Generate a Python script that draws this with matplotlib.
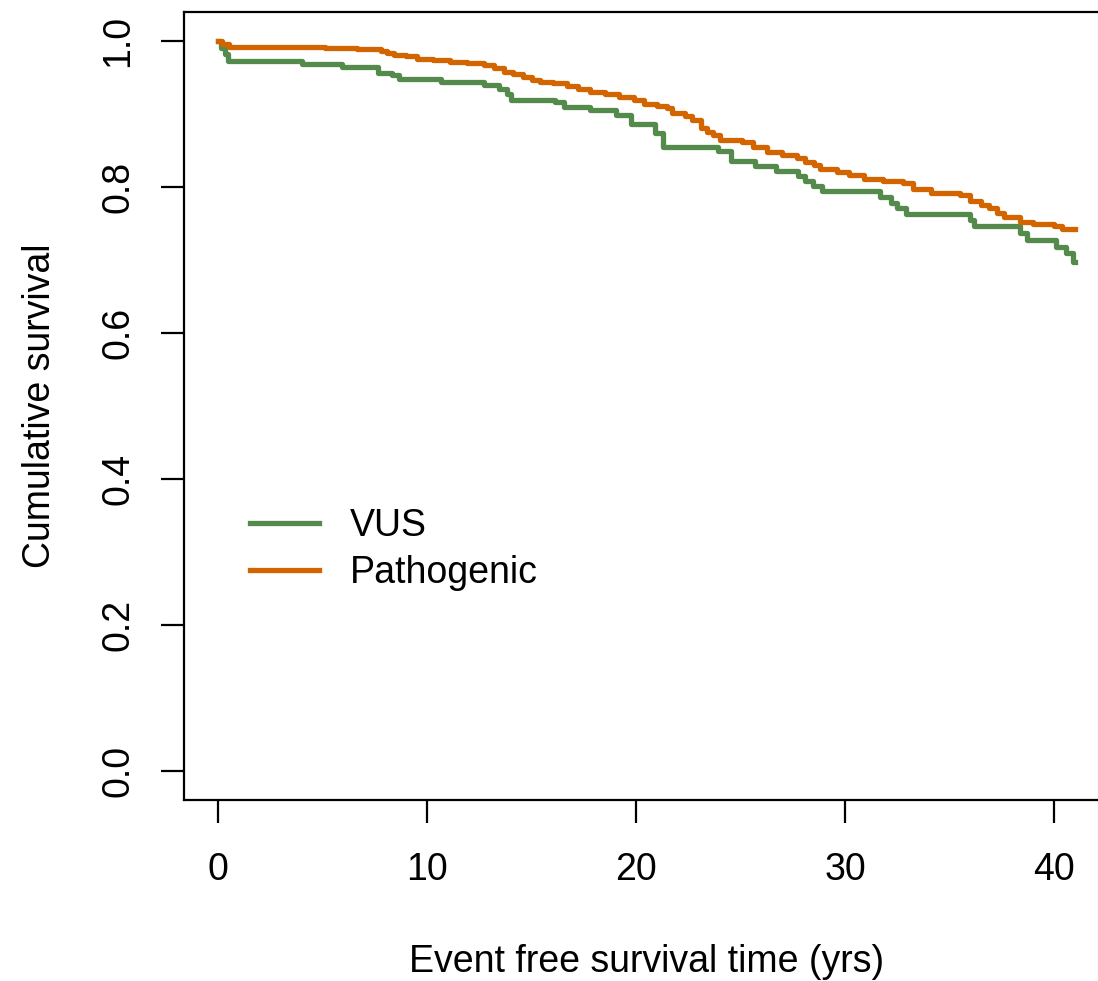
import matplotlib
matplotlib.use('Agg')
import matplotlib.pyplot as plt

# Kaplan-Meier style curves
vus_time = [0, 0.15, 0.3, 0.45, 4.0, 5.9, 7.66, 8.3, 8.66, 10.65, 12.7, 13.45, 13.8, 14.0,
            16.1, 16.55, 17.8, 19.05, 19.75, 20.9, 21.27, 23.9, 24.55, 25.7, 26.7, 27.75,
            28.1, 28.45, 28.9, 31.7, 32.2, 32.5, 32.9, 36.0, 36.2, 38.4, 38.7, 40.1, 40.6,
            40.9, 41.0]
vus_surv = [1.0, 0.99, 0.982, 0.973, 0.969, 0.965, 0.957, 0.953, 0.948, 0.944, 0.940, 0.935,
            0.928, 0.920, 0.916, 0.910, 0.905, 0.899, 0.887, 0.874, 0.855, 0.849, 0.836,
            0.829, 0.822, 0.815, 0.808, 0.801, 0.795, 0.787, 0.778, 0.771, 0.763, 0.755,
            0.746, 0.737, 0.727, 0.718, 0.709, 0.698, 0.698]

path_time = [0, 0.2, 0.5, 5.1, 6.65, 7.8, 8.1, 8.4, 9.0, 9.5, 10.3, 11.1, 11.9, 12.7, 13.2,
             13.7, 14.1, 14.6, 15.0, 15.4, 16.0, 16.7, 17.2, 17.8, 18.5, 19.2, 19.9, 20.4,
             21.0, 21.5, 21.7, 22.35, 22.7, 23.1, 23.4, 23.7, 24.0, 25.05, 25.6, 26.25,
             27.0, 27.7, 28.1, 28.5, 28.8, 29.6, 30.2, 30.9, 31.8, 32.8, 33.25, 34.1, 35.5,
             36.0, 36.5, 36.9, 37.3, 37.6, 38.4, 39.0, 40.0, 40.4, 41.0]
path_surv = [1.0, 0.996, 0.992, 0.991, 0.989, 0.987, 0.984, 0.981, 0.979, 0.976, 0.974, 0.972,
             0.970, 0.967, 0.963, 0.958, 0.955, 0.951, 0.947, 0.944, 0.942, 0.939, 0.934,
             0.931, 0.928, 0.923, 0.919, 0.914, 0.911, 0.908, 0.901, 0.897, 0.892, 0.881,
             0.876, 0.871, 0.865, 0.862, 0.855, 0.848, 0.844, 0.840, 0.835, 0.830, 0.825,
             0.821, 0.816, 0.811, 0.808, 0.805, 0.798, 0.792, 0.789, 0.781, 0.776, 0.771,
             0.764, 0.759, 0.752, 0.749, 0.746, 0.742, 0.742]

x_ticks = [0, 10, 20, 30, 40]
y_ticks = [0.0, 0.2, 0.4, 0.6, 0.8, 1.0]

plt.rcParams['font.family'] = ['Liberation Sans', 'DejaVu Sans']

fig = plt.figure(figsize=(10.98, 9.81), dpi=100)
ax = fig.add_axes([0.1676, 0.1845, 0.8424, 0.8033])

ax.step(vus_time, vus_surv, where='post', color='#548B4C', lw=3.8, label='VUS')
ax.step(path_time, path_surv, where='post', color='#D26500', lw=3.8, label='Pathogenic')

ax.set_xlim(-1.64, 42.64)
ax.set_ylim(-0.04, 1.04)
ax.set_xticks(x_ticks)
ax.set_xticklabels([str(t) for t in x_ticks])
ax.set_yticks(y_ticks)
ax.set_yticklabels(['%.1f' % t for t in y_ticks], rotation=90, va='center')
ax.tick_params(length=16.5, width=1.6, labelsize=27)
ax.tick_params(axis='x', pad=21)
ax.tick_params(axis='y', pad=18)
for s in ax.spines.values():
    s.set_linewidth(1.6)

ax.set_xlabel('Event free survival time (yrs)', fontsize=27, labelpad=40)
ax.set_ylabel('Cumulative survival', fontsize=27, labelpad=30)

ax.legend(loc='center left', bbox_to_anchor=(0.0714, 0.318), frameon=False,
          fontsize=27, handlelength=1.85, handletextpad=0.8, labelspacing=0.3,
          borderpad=0, borderaxespad=0)

fig.savefig('out.png', dpi=100)
